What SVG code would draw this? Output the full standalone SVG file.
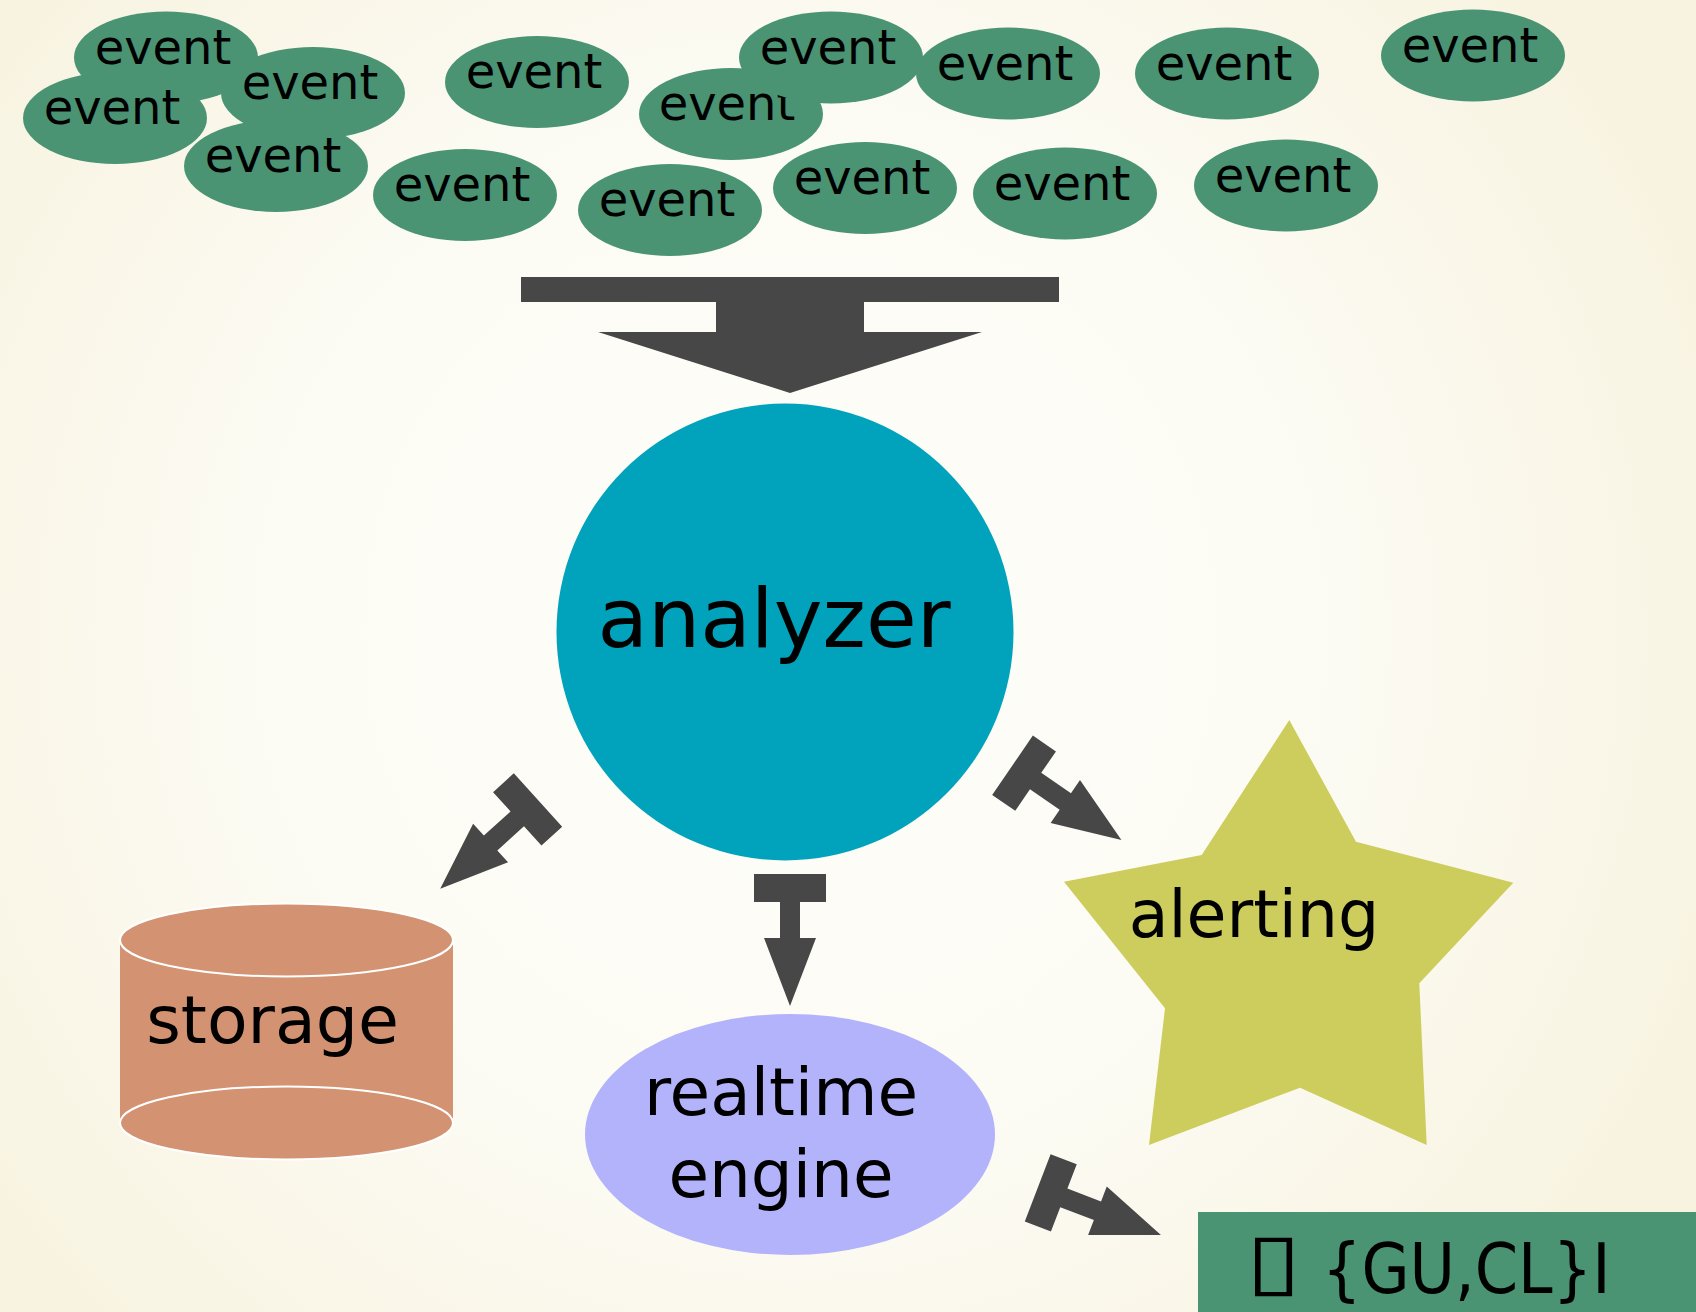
<svg xmlns="http://www.w3.org/2000/svg" xmlns:xlink="http://www.w3.org/1999/xlink" width="1696" height="1312" viewBox="0 0 1696 1312">
  <style>
    .lbl { font-family: "DejaVu Sans", "Liberation Sans", sans-serif; fill: #000; }
    .cond { font-family: "DejaVu Sans Condensed", "DejaVu Sans", sans-serif; font-stretch: condensed; }
    .ev ellipse { fill: #4a9474; }
    .ev text { font-size: 48px; text-anchor: middle; }
    .arrow { fill: #474747; }
  </style>
  <defs>
    <radialGradient id="bg" cx="790" cy="633" r="1000" gradientUnits="userSpaceOnUse">
      <stop offset="0" stop-color="#fefefb"/>
      <stop offset="0.55" stop-color="#fcfbf3"/>
      <stop offset="1" stop-color="#f8f3e0"/>
    </radialGradient>
    <!-- T-headed arrow, pointing along +x from the crossbar edge -->
    <polygon id="tarrow" points="0,-36 28,-36 28,-10 64,-10 64,-26 132,0 64,26 64,10 28,10 28,36 0,36"/>
  </defs>

  <rect width="1696" height="1312" fill="url(#bg)"/>

  <!-- incoming events -->
  <g id="events" class="lbl">
    <g id="event1" class="ev"><ellipse cx="166" cy="57.5" rx="92" ry="46"/><text x="163" y="63.5">event</text></g>
    <g id="event2" class="ev"><ellipse cx="115" cy="118" rx="92" ry="46"/><text x="112" y="124">event</text></g>
    <g id="event3" class="ev"><ellipse cx="313" cy="93" rx="92" ry="46"/><text x="310" y="99">event</text></g>
    <g id="event4" class="ev"><ellipse cx="276" cy="166" rx="92" ry="46"/><text x="273" y="172">event</text></g>
    <g id="event5" class="ev"><ellipse cx="537" cy="82" rx="92" ry="46"/><text x="534" y="88">event</text></g>
    <g id="event6" class="ev"><ellipse cx="465" cy="195" rx="92" ry="46"/><text x="462" y="201">event</text></g>
    <g id="event8" class="ev"><ellipse cx="731" cy="114" rx="92" ry="46"/><text x="727" y="120">event</text></g>
    <g id="event7" class="ev"><ellipse cx="831" cy="57.5" rx="92" ry="46"/><text x="828" y="63.5">event</text></g>
    <g id="event9" class="ev"><ellipse cx="1008" cy="73.5" rx="92" ry="46"/><text x="1005" y="79.5">event</text></g>
    <g id="event10" class="ev"><ellipse cx="1227" cy="73.5" rx="92" ry="46"/><text x="1224" y="79.5">event</text></g>
    <g id="event11" class="ev"><ellipse cx="1473" cy="55.5" rx="92" ry="46"/><text x="1470" y="61.5">event</text></g>
    <g id="event12" class="ev"><ellipse cx="670" cy="210" rx="92" ry="46"/><text x="667" y="216">event</text></g>
    <g id="event13" class="ev"><ellipse cx="865" cy="188" rx="92" ry="46"/><text x="862" y="194">event</text></g>
    <g id="event14" class="ev"><ellipse cx="1065" cy="193.5" rx="92" ry="46"/><text x="1062" y="199.5">event</text></g>
    <g id="event15" class="ev"><ellipse cx="1286" cy="185.5" rx="92" ry="46"/><text x="1283" y="191.5">event</text></g>
  </g>

  <!-- connectors -->
  <g id="connectors" class="arrow">
    <polygon id="events-analyzer" points="521,277 1059,277 1059,302 864,302 864,332 982,332 790,393 598,332 716,332 716,302 521,302"/>
    <use id="analyzer-storage" xlink:href="#tarrow" transform="translate(538,800) rotate(137.8)"/>
    <use id="analyzer-realtime" xlink:href="#tarrow" transform="translate(790,874) rotate(90)"/>
    <use id="analyzer-alerting" xlink:href="#tarrow" transform="translate(1012.5,765.3) rotate(34.4)"/>
    <use id="realtime-notify" xlink:href="#tarrow" transform="translate(1037.7,1187.8) rotate(21)"/>
  </g>

  <g id="analyzer" class="lbl">
    <circle cx="785" cy="632" r="228.5" fill="#00a3bb"/>
    <text x="774" y="647" font-size="82.5" text-anchor="middle">analyzer</text>
  </g>

  <g id="storage" class="lbl">
    <path d="M120,940 L120,1123 L453,1123 L453,940 Z" fill="#d39272"/>
    <ellipse cx="286.5" cy="1123" rx="166.5" ry="36.5" fill="#d39272" stroke="#fff" stroke-width="2"/>
    <ellipse cx="286.5" cy="940" rx="166.5" ry="36.5" fill="#d39272" stroke="#fff" stroke-width="2"/>
    <text x="272.5" y="1043" font-size="66.5" text-anchor="middle">storage</text>
  </g>

  <g id="alerting" class="lbl">
    <polygon points="1289.3,720 1356,841.7 1513.3,882.7 1419.3,983.3 1426.7,1145 1300,1087.7 1149,1145 1165,1008.3 1064,881.7 1201.7,855" fill="#cdcd5e"/>
    <text x="1254" y="937" font-size="65" text-anchor="middle">alerting</text>
  </g>

  <g id="realtime-engine" class="lbl">
    <ellipse cx="790" cy="1134.5" rx="205" ry="120.5" fill="#b3b3fb"/>
    <text x="781" y="1115" font-size="66" text-anchor="middle">realtime</text>
    <text x="781" y="1197" font-size="66" text-anchor="middle">engine</text>
  </g>

  <g id="notify" class="lbl">
    <rect x="1198" y="1212" width="520" height="120" fill="#4a9474"/>
    <text class="cond" transform="translate(1246,1287) scale(1.45,1)" font-size="77">▯</text>
    <text class="cond" x="1322" y="1293" font-size="69">{GU,CL}I</text>
  </g>
</svg>
